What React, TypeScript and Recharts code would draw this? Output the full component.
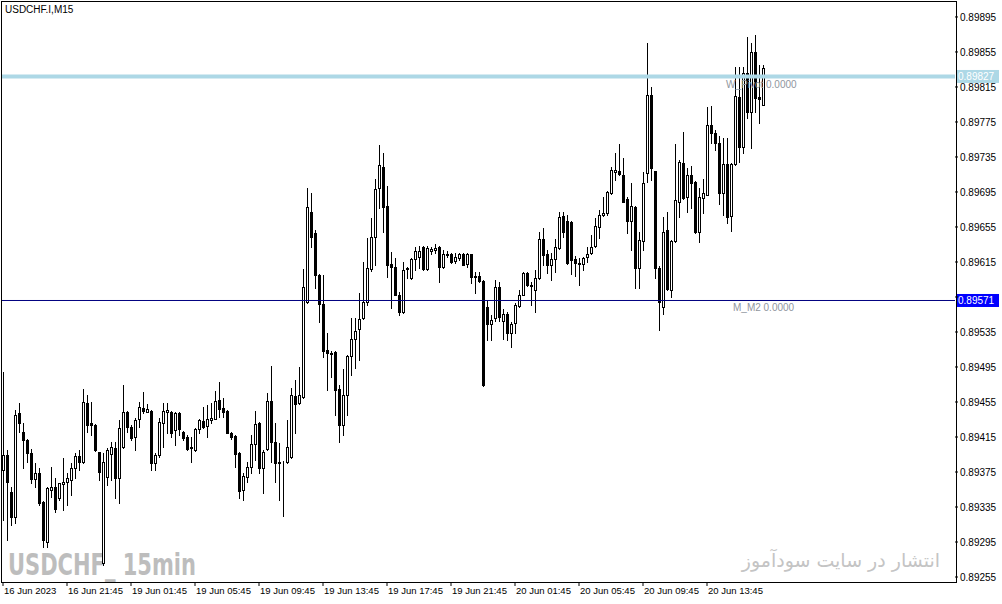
import React from "react";
import { ComposedChart, Bar, XAxis, YAxis, ReferenceLine } from "recharts";

// USDCHF.I M15, 16 Jun 2023 17:45 .. 20 Jun 2023 17:15
const opens = [
  0.89377, 0.89394, 0.89352, 0.89324, 0.89442, 0.89421, 0.89412, 0.89397, 0.89367, 0.89374,
  0.89341, 0.89295, 0.89354, 0.89358, 0.89345, 0.89361, 0.89364, 0.89366, 0.8938, 0.89393,
  0.89386, 0.89454, 0.89431, 0.89429, 0.89398, 0.89271, 0.89369, 0.89396, 0.89402, 0.89368,
  0.89404, 0.89444, 0.89426, 0.89415, 0.89436, 0.89448, 0.89444, 0.89445, 0.89385, 0.89394,
  0.89431, 0.89444, 0.89444, 0.89423, 0.89442, 0.89421, 0.89415, 0.89404, 0.894, 0.89424,
  0.89433, 0.89428, 0.89434, 0.89436, 0.89457, 0.89448, 0.89445, 0.8942, 0.89416, 0.89397,
  0.89354, 0.89369, 0.89381, 0.89407, 0.89431, 0.8938, 0.89401, 0.89456, 0.89409, 0.89386,
  0.89386, 0.89386, 0.89392, 0.89462, 0.89454, 0.89461, 0.89569, 0.89672, 0.89648, 0.896,
  0.89567, 0.89514, 0.89511, 0.89512, 0.8947, 0.89429, 0.89463, 0.89508, 0.89527, 0.89538,
  0.89551, 0.89569, 0.89607, 0.89644, 0.897, 0.89724, 0.89679, 0.89613, 0.89609, 0.89577,
  0.89558, 0.89607, 0.89597, 0.89618, 0.89621, 0.89632, 0.89607, 0.89628, 0.89629, 0.89632,
  0.89609, 0.89623, 0.89624, 0.89616, 0.8962, 0.89624, 0.89613, 0.89624, 0.89599, 0.89599,
  0.89593, 0.89564, 0.89544, 0.89551, 0.89586, 0.89548, 0.89556, 0.89534, 0.89545, 0.89565,
  0.89577, 0.89602, 0.89589, 0.89583, 0.89597, 0.89641, 0.89624, 0.89612, 0.89618, 0.89631,
  0.89667, 0.89662, 0.89661, 0.89618, 0.89613, 0.89613, 0.89621, 0.89625, 0.89633, 0.89655,
  0.89669, 0.89671, 0.89694, 0.89718, 0.89719, 0.89714, 0.89687, 0.89662, 0.89678, 0.89608,
  0.89639, 0.89717, 0.89806, 0.89719, 0.89608, 0.89564, 0.89652, 0.89583, 0.89639, 0.89684,
  0.89728, 0.89689, 0.89714, 0.89706, 0.89649, 0.89688, 0.89692, 0.89772, 0.89762, 0.89751,
  0.89694, 0.89727, 0.89667, 0.89727, 0.89804, 0.89746, 0.89831, 0.89786, 0.89855, 0.89804,
  0.89794,
];
const highs = [
  0.89489, 0.894, 0.89358, 0.89446, 0.89454, 0.89431, 0.89413, 0.89401, 0.89385, 0.8938,
  0.89342, 0.89358, 0.89381, 0.89368, 0.89363, 0.89391, 0.89374, 0.89385, 0.89397, 0.894,
  0.8947, 0.89463, 0.89455, 0.8943, 0.89398, 0.89397, 0.89402, 0.89409, 0.89409, 0.89434,
  0.89474, 0.89445, 0.89429, 0.89437, 0.89455, 0.89466, 0.89453, 0.89446, 0.89397, 0.89437,
  0.89454, 0.89454, 0.89445, 0.89444, 0.89443, 0.89422, 0.89417, 0.89415, 0.89425, 0.89435,
  0.89449, 0.89452, 0.89454, 0.89468, 0.89478, 0.8946, 0.89446, 0.89421, 0.89417, 0.89398,
  0.89374, 0.89386, 0.89417, 0.89445, 0.89432, 0.894, 0.89465, 0.89496, 0.89431, 0.89408,
  0.89388, 0.89434, 0.89471, 0.8948, 0.89495, 0.89607, 0.897, 0.89694, 0.89652, 0.89601,
  0.896, 0.89534, 0.89513, 0.89513, 0.89474, 0.89493, 0.89509, 0.89551, 0.89551, 0.8958,
  0.89615, 0.89642, 0.89665, 0.8971, 0.89749, 0.8974, 0.89702, 0.89626, 0.8962, 0.89581,
  0.89615, 0.89609, 0.8962, 0.89632, 0.89633, 0.89633, 0.89633, 0.89632, 0.89635, 0.89633,
  0.89629, 0.89628, 0.89625, 0.89625, 0.89625, 0.89625, 0.89625, 0.89624, 0.89603, 0.89604,
  0.89594, 0.89572, 0.89554, 0.89594, 0.89592, 0.89561, 0.89558, 0.89546, 0.89568, 0.89583,
  0.89603, 0.89603, 0.89592, 0.89606, 0.89649, 0.89654, 0.89629, 0.89625, 0.89641, 0.89672,
  0.89672, 0.89669, 0.89662, 0.89622, 0.8962, 0.89621, 0.89632, 0.89646, 0.89665, 0.89674,
  0.89689, 0.89696, 0.89724, 0.8974, 0.8975, 0.89734, 0.89689, 0.89705, 0.89679, 0.89649,
  0.89718, 0.89865, 0.89815, 0.89719, 0.8961, 0.89666, 0.89672, 0.8964, 0.8975, 0.89731,
  0.89764, 0.89722, 0.89725, 0.89707, 0.897, 0.8971, 0.89792, 0.89793, 0.89766, 0.89759,
  0.89757, 0.89757, 0.89728, 0.89838, 0.89838, 0.89838, 0.89872, 0.89865, 0.89874, 0.8984,
  0.8984,
];
const lows = [
  0.8932, 0.89297, 0.89314, 0.89317, 0.89421, 0.8938, 0.89386, 0.89362, 0.89358, 0.89337,
  0.89289, 0.89289, 0.89346, 0.89329, 0.89343, 0.89332, 0.89337, 0.89349, 0.89368, 0.89377,
  0.89385, 0.89421, 0.89417, 0.89399, 0.89366, 0.89269, 0.8936, 0.89366, 0.89345, 0.8934,
  0.89403, 0.89421, 0.89412, 0.894, 0.89426, 0.89442, 0.89443, 0.89377, 0.89377, 0.89392,
  0.89404, 0.8942, 0.89415, 0.89406, 0.89417, 0.89412, 0.894, 0.89386, 0.89399, 0.8942,
  0.89425, 0.89415, 0.89431, 0.89435, 0.89438, 0.89438, 0.89419, 0.89413, 0.89381, 0.89345,
  0.89343, 0.89364, 0.89374, 0.89389, 0.89374, 0.89351, 0.894, 0.89386, 0.89364, 0.89343,
  0.89325, 0.89385, 0.89391, 0.8942, 0.89453, 0.8946, 0.89568, 0.89632, 0.89585, 0.89546,
  0.89506, 0.89469, 0.89484, 0.8944, 0.89409, 0.89417, 0.8944, 0.89486, 0.89494, 0.89503,
  0.8955, 0.89566, 0.89605, 0.89612, 0.89677, 0.89649, 0.89598, 0.89562, 0.89577, 0.89554,
  0.89557, 0.89597, 0.89595, 0.89606, 0.89608, 0.89606, 0.89606, 0.89624, 0.89625, 0.89592,
  0.89608, 0.89621, 0.89614, 0.89614, 0.89617, 0.89612, 0.89609, 0.89591, 0.8958, 0.89592,
  0.89473, 0.89526, 0.89526, 0.89548, 0.89548, 0.89527, 0.89526, 0.89518, 0.89534, 0.89564,
  0.89577, 0.89588, 0.89566, 0.89558, 0.89596, 0.89612, 0.89602, 0.89594, 0.89604, 0.8963,
  0.89644, 0.89613, 0.89601, 0.89599, 0.89589, 0.89606, 0.89615, 0.89624, 0.89632, 0.89642,
  0.89667, 0.89669, 0.89693, 0.89709, 0.89714, 0.89683, 0.89648, 0.89629, 0.89585, 0.89585,
  0.89629, 0.89706, 0.89709, 0.89597, 0.89537, 0.89556, 0.89583, 0.89575, 0.89638, 0.89666,
  0.89687, 0.89672, 0.89677, 0.89648, 0.89638, 0.89671, 0.89691, 0.89751, 0.89743, 0.89681,
  0.89669, 0.8966, 0.8965, 0.89726, 0.89729, 0.8974, 0.8978, 0.89745, 0.89786, 0.89774,
  0.89794,
];
const closes = [
  0.89394, 0.89364, 0.89324, 0.8944, 0.89431, 0.89412, 0.89397, 0.89367, 0.89374, 0.8934,
  0.89297, 0.89357, 0.89358, 0.89333, 0.89362, 0.89364, 0.89368, 0.8938, 0.89393, 0.89386,
  0.89455, 0.89429, 0.89429, 0.894, 0.89375, 0.89386, 0.894, 0.89404, 0.89368, 0.89425,
  0.89444, 0.89426, 0.89414, 0.89434, 0.89449, 0.89445, 0.89447, 0.89385, 0.89394, 0.89432,
  0.89445, 0.89446, 0.8942, 0.89442, 0.89424, 0.89414, 0.89401, 0.89402, 0.89424, 0.89434,
  0.89426, 0.89436, 0.89437, 0.89456, 0.89447, 0.89444, 0.8942, 0.89415, 0.89396, 0.89353,
  0.8937, 0.89381, 0.89407, 0.8943, 0.8938, 0.89398, 0.89456, 0.89409, 0.89385, 0.89385,
  0.89387, 0.89404, 0.89463, 0.89453, 0.89463, 0.89586, 0.89678, 0.89644, 0.896, 0.89567,
  0.89513, 0.89511, 0.8951, 0.89469, 0.89429, 0.89463, 0.89508, 0.89527, 0.89536, 0.8955,
  0.89569, 0.89608, 0.89644, 0.89698, 0.89726, 0.89678, 0.89612, 0.89609, 0.89577, 0.89558,
  0.89606, 0.89608, 0.89618, 0.89628, 0.89628, 0.89607, 0.89631, 0.8963, 0.89631, 0.89609,
  0.89624, 0.89624, 0.89615, 0.89621, 0.89624, 0.89612, 0.89624, 0.89598, 0.89598, 0.89593,
  0.89474, 0.89544, 0.89549, 0.89586, 0.89552, 0.89556, 0.89534, 0.89544, 0.89566, 0.89577,
  0.89602, 0.89589, 0.89588, 0.89597, 0.89641, 0.89623, 0.89612, 0.89618, 0.89632, 0.89666,
  0.89649, 0.89614, 0.89617, 0.89614, 0.89614, 0.8962, 0.89624, 0.89632, 0.89656, 0.89669,
  0.89671, 0.89695, 0.8972, 0.8972, 0.89715, 0.89684, 0.89662, 0.89679, 0.89608, 0.8964,
  0.89705, 0.89806, 0.89722, 0.89608, 0.89569, 0.89649, 0.89584, 0.89639, 0.89686, 0.89729,
  0.89688, 0.89714, 0.89705, 0.89649, 0.89689, 0.89694, 0.89772, 0.89762, 0.89751, 0.89694,
  0.89727, 0.89666, 0.89727, 0.89805, 0.89746, 0.89831, 0.89786, 0.89855, 0.89802, 0.89801,
  0.89837,
];

const timeTickBars = [0, 16, 32, 48, 64, 80, 96, 112, 128, 144, 160, 176];
const timeTickLabels = [
  "16 Jun 2023", "16 Jun 21:45", "19 Jun 01:45", "19 Jun 05:45", "19 Jun 09:45", "19 Jun 13:45",
  "19 Jun 17:45", "19 Jun 21:45", "20 Jun 01:45", "20 Jun 05:45", "20 Jun 09:45", "20 Jun 13:45",
];
const priceTicks = [
  0.89255, 0.89295, 0.89335, 0.89375, 0.89415, 0.89455, 0.89495, 0.89535, 0.89575,
  0.89615, 0.89655, 0.89695, 0.89735, 0.89775, 0.89815, 0.89855, 0.89895,
];
const weeklyPivot = 0.89827;
const monthlyM2 = 0.89571;

const FONT = "'Liberation Sans', Arial, sans-serif";

const candles = opens.map((o, i) => ({
  i,
  o,
  h: highs[i],
  l: lows[i],
  c: closes[i],
  range: [lows[i], highs[i]],
}));

function Candle(props: any) {
  const { x, y, width, height, payload } = props;
  if (!payload || x == null || y == null) return null;
  const { o, h, l, c } = payload;
  const span = h - l;
  const py = (v: number) => (span > 0 ? y + ((h - v) / span) * height : y);
  const cx = Math.floor(x + width / 2) + 0.5;
  const top = Math.round(py(Math.max(o, c)));
  const bot = Math.round(py(Math.min(o, c)));
  const up = c >= o;
  return (
    <g>
      <line x1={cx} x2={cx} y1={Math.round(y)} y2={Math.round(y + height) + 1} stroke="#000" strokeWidth={1} />
      <rect
        x={cx - 1}
        y={top + 0.5}
        width={2}
        height={Math.max(bot - top, 0)}
        fill={up ? "#fff" : "#000"}
        stroke="#000"
        strokeWidth={1}
      />
    </g>
  );
}

function TimeTick(props: any) {
  const { x, y, payload } = props;
  const k = timeTickBars.indexOf(payload.value);
  if (k < 0) return null;
  return (
    <text x={x + 1} y={y} dy="0.71em" fontSize={9.5} fontFamily={FONT} fill="#000" textAnchor="start">
      {timeTickLabels[k]}
    </text>
  );
}

// price labels hidden behind a level tag are not drawn
function PriceTick(props: any) {
  const { x, y, payload } = props;
  const v = payload.value as number;
  if (Math.abs(v - monthlyM2) < 0.0001 || Math.abs(v - weeklyPivot) < 0.0001) return null;
  return (
    <text x={x} y={y} dy="0.355em" fontSize={10} fontFamily={FONT} fill="#000" textAnchor="start">
      {v.toFixed(5)}
    </text>
  );
}

function LevelTag(props: any) {
  const { viewBox, value, bg, note, noteDx, noteDy } = props;
  if (!viewBox) return null;
  const right = viewBox.x + viewBox.width;
  const ly = viewBox.y;
  return (
    <g>
      <text x={viewBox.x + noteDx} y={ly + noteDy} fontSize={10} fontFamily={FONT} fill="#8f969e">
        {note}
      </text>
      <rect x={right + 1} y={ly - 6.5} width={43} height={13} fill={bg} />
      <text x={right + 3} y={ly + 3.5} fontSize={10} fontFamily={FONT} fill="#fff">
        {value.toFixed(5)}
      </text>
    </g>
  );
}

export default function App() {
  return (
    <div style={{ position: "fixed", left: 0, top: 0, width: 1002, height: 604, background: "#fff", overflow: "hidden" }}>
      <svg style={{ position: "absolute", left: 0, top: 0 }} width={1002} height={604}>
        <text
          x={8}
          y={575}
          fontSize={30}
          fontWeight="bold"
          fontFamily="'Liberation Sans Narrow', 'DejaVu Sans Condensed', sans-serif"
          fill="#bdbdbd"
          textLength={188}
          lengthAdjust="spacingAndGlyphs"
        >
          USDCHF_ 15min
        </text>
      </svg>
      <div
        style={{
          position: "absolute",
          right: 62,
          top: 549,
          fontSize: 19,
          fontFamily: "'DejaVu Sans', sans-serif",
          color: "#c4c4c4",
          direction: "rtl",
          whiteSpace: "nowrap",
        }}
      >
        انتشار در سایت سودآموز
      </div>
      <div style={{ position: "absolute", left: 0, top: 0 }}>
        <ComposedChart
          width={1002}
          height={604}
          data={candles}
          margin={{ top: 2, right: 0, bottom: 0, left: 1 }}
          barCategoryGap={0}
        >
          <XAxis
            dataKey="i"
            type="category"
            padding={{ left: 0, right: 190 }}
            ticks={timeTickBars}
            interval={0}
            tick={<TimeTick />}
            tickSize={4}
            tickMargin={1}
            axisLine={false}
            stroke="#000"
            height={22}
          />
          <YAxis
            orientation="right"
            type="number"
            domain={[0.892493, 0.899121]}
            allowDataOverflow
            ticks={priceTicks}
            interval={0}
            width={47}
            axisLine={false}
            tickSize={3}
            tickMargin={2}
            stroke="#000"
            tick={<PriceTick />}
          />
          <Bar dataKey="range" shape={(p: any) => <Candle {...p} />} isAnimationActive={false} />
          <ReferenceLine
            y={weeklyPivot}
            stroke="#add8e6"
            strokeWidth={4}
            label={(p: any) => (
              <LevelTag {...p} value={weeklyPivot} bg="#add8e6" note="W_Pivot 0.0000" noteDx={725} noteDy={12} />
            )}
          />
          <ReferenceLine
            y={monthlyM2}
            stroke="#000080"
            strokeWidth={1}
            label={(p: any) => (
              <LevelTag {...p} value={monthlyM2} bg="#0000ff" note="M_M2 0.0000" noteDx={732} noteDy={11} />
            )}
          />
        </ComposedChart>
      </div>
      <div
        style={{
          position: "absolute",
          left: 1,
          top: 1,
          width: 954,
          height: 580,
          border: "1px solid #000",
          pointerEvents: "none",
        }}
      />
      <div style={{ position: "absolute", left: 5, top: 4, fontSize: 10, fontFamily: FONT, color: "#000" }}>
        USDCHF.I,M15
      </div>
    </div>
  );
}
